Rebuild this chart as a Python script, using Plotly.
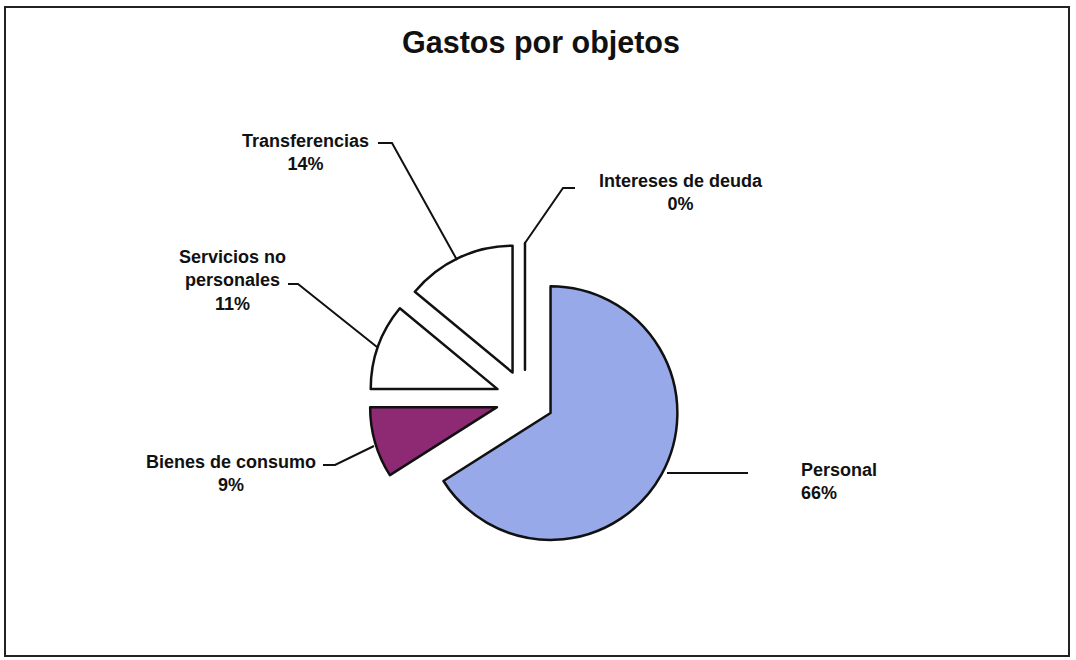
import plotly.graph_objects as go

# ---- data ----
labels = ["Personal", "Bienes de consumo", "Servicios no personales", "Transferencias", "Intereses de deuda"]
percent = [66, 9, 11, 14, 0]
colors = ["#98A9EA", "#8E2A73", "#FFFFFF", "#FFFFFF", "#FFFFFF"]
title_text = "Gastos por objetos"

W, H = 1076, 660


def px(x, y):
    return x / W, 1 - y / H


fig = go.Figure()
fig.add_trace(go.Pie(
    labels=labels,
    values=percent,
    sort=False,
    direction="clockwise",
    rotation=0,
    pull=[0.23] * len(labels),
    marker=dict(colors=colors, line=dict(color="#111111", width=2.5)),
    textinfo="none",
    hoverinfo="label+percent",
    showlegend=False,
    domain=dict(x=[0.3429, 0.6329], y=[0.1591, 0.6318]),
))

font = dict(family="Liberation Sans, Arial, sans-serif", size=18, color="#111111")

# label placements (page pixels) and alignment
label_pos = {
    "Personal": (799, 481, "left"),
    "Bienes de consumo": (231, 473, "center"),
    "Servicios no personales": (232, 280, "center"),
    "Transferencias": (305, 152, "center"),
    "Intereses de deuda": (681, 192, "center"),
}

annotations = []
for lab, p in zip(labels, percent):
    x, y, al = label_pos[lab]
    t = lab.replace("no personales", "no<br>personales")
    xa, ya = px(x, y)
    annotations.append(dict(
        x=xa, y=ya, xref="paper", yref="paper",
        text=f"<b>{t}<br>{p}%</b>", showarrow=False,
        xanchor="left" if al == "left" else "center", yanchor="middle",
        align=al, font=font,
    ))

# leader lines (page pixels)
leaders = [
    [(378, 143), (392, 143), (457, 260)],
    [(575, 188), (563, 188), (525, 243)],
    [(288, 284), (298, 284), (377, 347)],
    [(323, 465), (335, 465), (374, 446)],
    [(667, 473), (748, 473)],
]
shapes = []
for pts in leaders:
    path = ""
    for i, (x, y) in enumerate(pts):
        xa, ya = px(x, y)
        path += ("M" if i == 0 else " L") + f"{xa:.5f},{ya:.5f}"
    shapes.append(dict(type="path", path=path, xref="paper", yref="paper",
                       line=dict(color="#111111", width=2)))

# outer frame
x0, y0 = px(5, 7)
x1, y1 = px(1069, 656)
shapes.append(dict(type="rect", xref="paper", yref="paper", x0=x0, y0=y1, x1=x1, y1=y0,
                   line=dict(color="#222222", width=2), fillcolor="rgba(0,0,0,0)"))

fig.update_layout(
    width=W, height=H,
    margin=dict(l=0, r=0, t=0, b=0),
    paper_bgcolor="white",
    plot_bgcolor="white",
    title=dict(text=f"<b>{title_text}</b>", x=541 / W, y=1 - 42 / H,
               xref="container", yref="container", xanchor="center", yanchor="middle",
               font=dict(family="Liberation Sans, Arial, sans-serif", size=30.5, color="#111111")),
    annotations=annotations,
    shapes=shapes,
)

fig.write_html("out.html", config={"displayModeBar": False},
               post_script="document.body.style.margin='0';")
